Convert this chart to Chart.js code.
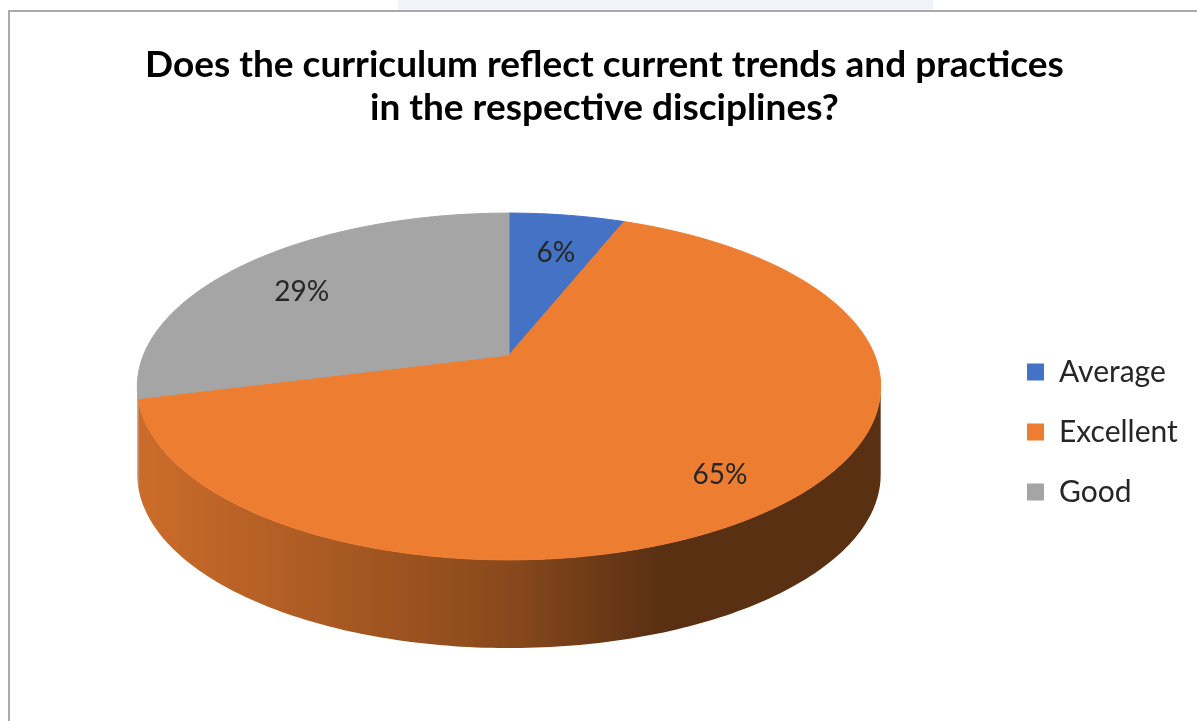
<!DOCTYPE html>
<html>
<head>
<meta charset="utf-8">
<title>Curriculum - current trends and practices</title>
<script src="https://cdn.jsdelivr.net/npm/chart.js@4.4.1/dist/chart.umd.min.js"></script>
<style>
  html, body { margin: 0; padding: 0; background: #fff; }
  #wrap { position: relative; width: 1197px; height: 721px; overflow: hidden; }
  #mark { position: absolute; left: 398px; top: 0; width: 535px; height: 10px; background: #f0f4f8; }
  #frame { position: absolute; left: 8px; top: 10px; right: -4px; bottom: -4px;
           border-left: 2px solid #aaaaaa; border-top: 2px solid #aaaaaa; pointer-events: none; }
  canvas { position: absolute; left: 0; top: 0; }
</style>
</head>
<body>
<div id="wrap">
  <div id="mark"></div>
  <canvas id="chart" width="1197" height="721"></canvas>
  <div id="frame"></div>
</div>
<script>
// ==================== DATA ====================
const categories = ['Average', 'Excellent', 'Good'];
const shares = [6, 65, 29];
const sliceColors = ['#4472C4', '#ED7D31', '#A5A5A5'];
const titleLines = ['Does the curriculum reflect current trends and practices', 'in the respective disciplines?'];

// ==================== 3D LOOK ====================
const FONT = 'Lato';
const PIE_RADIUS = 215;   // chart.js radius, the 3d ellipse is scaled from it
const SIZE_X = 1.70;      // horizontal stretch of the top face
const SIZE_Y = 0.78;      // vertical squash of the top face
const PERSP = 0.1816;     // how much the back of the pie shrinks
const DEPTH = 0.41;       // height of the side wall
const LABEL_POS = 0.78;
const LABEL_DROP = 0.12;

// flat unit-disk point -> screen point, seen in perspective
function toScreen(arc, u, v) {
    const w = 1 - PERSP * v;
    return {
        x: arc.x + arc.outerRadius * SIZE_X * u / w,
        y: arc.y + arc.outerRadius * SIZE_Y * v / w
    };
}

function shade(hex, k) {
    const n = parseInt(hex.slice(1), 16);
    const r = Math.round(((n >> 16) & 255) * k);
    const g = Math.round(((n >> 8) & 255) * k);
    const b = Math.round((n & 255) * k);
    return `rgb(${r},${g},${b})`;
}

function rimPath(ctx, arc, a0, a1, dy, reverse) {
    const steps = Math.max(2, Math.ceil(Math.abs(a1 - a0) * 60));
    for (let i = 0; i <= steps; i++) {
        const t = reverse ? 1 - i / steps : i / steps;
        const a = a0 + (a1 - a0) * t;
        const p = toScreen(arc, Math.cos(a), Math.sin(a));
        ctx.lineTo(p.x, p.y + dy);
    }
}

const pie3d = {
    id: 'pie3d',
    beforeDatasetDraw(chart, args) {
        const ctx = chart.ctx;
        const arcs = args.meta.data;
        const edge = Math.asin(PERSP);
        const frontFrom = edge, frontTo = Math.PI - edge;

        ctx.save();
        // side wall (only the front half is visible)
        arcs.forEach(arc => {
            const a0 = Math.max(arc.startAngle, frontFrom);
            const a1 = Math.min(arc.endAngle, frontTo);
            if (a1 <= a0) return;
            const depth = arc.outerRadius * DEPTH;
            const left = toScreen(arc, Math.cos(frontTo), Math.sin(frontTo)).x;
            const right = toScreen(arc, Math.cos(frontFrom), Math.sin(frontFrom)).x;
            const base = arc.options.backgroundColor;
            const grad = ctx.createLinearGradient(left, 0, right, 0);
            grad.addColorStop(0, shade(base, 0.86));
            grad.addColorStop(0.5, shade(base, 0.58));
            grad.addColorStop(0.7, shade(base, 0.38));
            grad.addColorStop(1, shade(base, 0.38));
            ctx.beginPath();
            rimPath(ctx, arc, a0, a1, 0, false);
            rimPath(ctx, arc, a0, a1, depth, true);
            ctx.closePath();
            ctx.fillStyle = grad;
            ctx.fill();
        });
        // top faces
        arcs.forEach(arc => {
            const base = arc.options.backgroundColor;
            ctx.beginPath();
            ctx.moveTo(arc.x, arc.y);
            rimPath(ctx, arc, arc.startAngle, arc.endAngle, 0, false);
            ctx.closePath();
            ctx.fillStyle = base;
            ctx.fill();
            ctx.strokeStyle = base;
            ctx.lineWidth = 1;
            ctx.stroke();
        });
        ctx.restore();
        return false;
    },
    // percentages on the top faces
    afterDatasetsDraw(chart) {
        const ctx = chart.ctx;
        const meta = chart.getDatasetMeta(0);
        const data = chart.data.datasets[0].data;
        const total = data.reduce((a, b) => a + b, 0);
        ctx.save();
        ctx.font = `28px ${FONT}`;
        ctx.fillStyle = '#262626';
        ctx.textAlign = 'center';
        ctx.textBaseline = 'middle';
        meta.data.forEach((arc, i) => {
            const mid = (arc.startAngle + arc.endAngle) / 2;
            const p = toScreen(arc, LABEL_POS * Math.cos(mid), LABEL_POS * Math.sin(mid));
            const pct = Math.round(data[i] / total * 100) + '%';
            ctx.fillText(pct, p.x, p.y + arc.outerRadius * DEPTH * LABEL_DROP);
        });
        ctx.restore();
    }
};

// legend sits right of the pie; keep its boxes at the same x whatever the text width
const LEGEND_SIZE = 30;
const legendPad = 30;
const measure = document.createElement('canvas').getContext('2d');
measure.font = `${LEGEND_SIZE}px ${FONT}`;
const widest = Math.max(...categories.map(c => measure.measureText(c).width));
const rightPad = Math.max(0, 1197 - 997 - (legendPad + 17 + LEGEND_SIZE / 2 + widest + 10));

// ==================== CHART ====================
new Chart(document.getElementById('chart'), {
    type: 'pie',
    data: {
        labels: categories,
        datasets: [{
            data: shares,
            backgroundColor: sliceColors,
            borderWidth: 0,
            radius: PIE_RADIUS
        }]
    },
    options: {
        responsive: false,
        animation: false,
        events: [],
        layout: { padding: { left: 21, right: rightPad, top: 0, bottom: 151 } },
        plugins: {
            tooltip: { enabled: false },
            title: {
                display: true,
                text: titleLines,
                color: '#000',
                font: { family: FONT, size: 37, weight: 'bold', lineHeight: 1.162 },
                padding: { top: 44, bottom: 10 }
            },
            legend: {
                position: 'right',
                align: 'start',
                // spacer title pushes the items down to the middle of the frame
                title: { display: true, text: ' ', font: { size: 10 }, padding: { top: 0, bottom: 315 } },
                labels: {
                    boxWidth: 17,
                    boxHeight: 17,
                    padding: legendPad,
                    color: '#262626',
                    font: { family: FONT, size: LEGEND_SIZE }
                }
            }
        }
    },
    plugins: [pie3d]
});
</script>
</body>
</html>
